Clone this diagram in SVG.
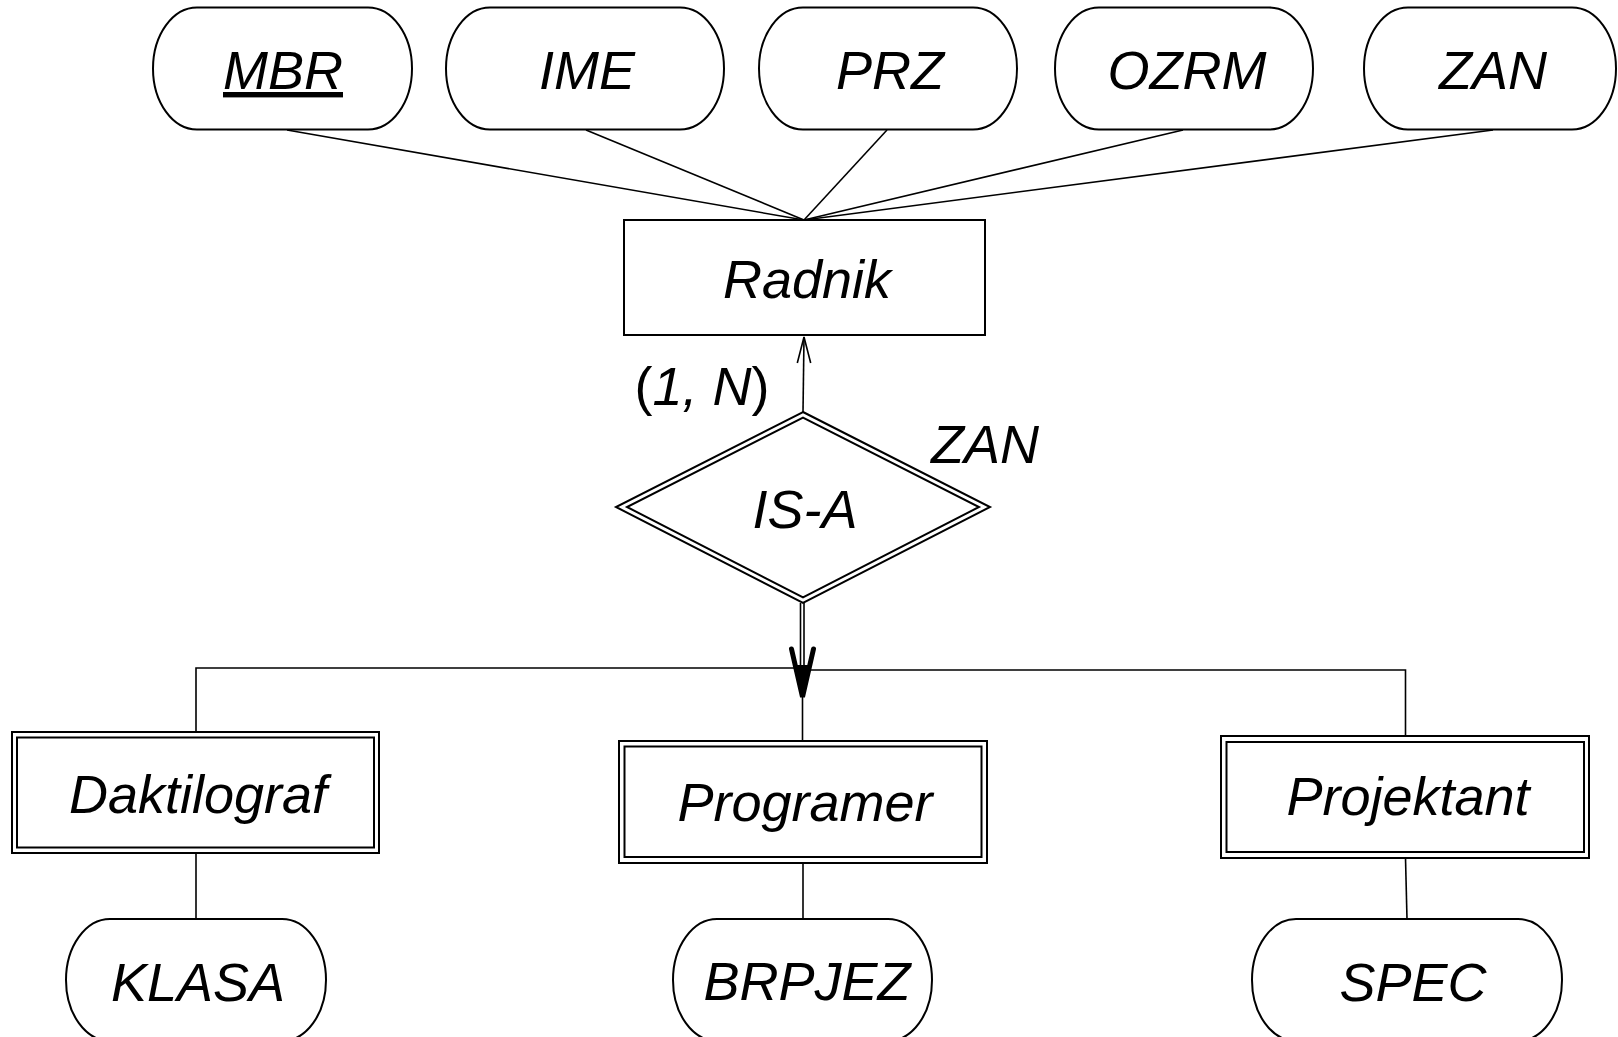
<svg xmlns="http://www.w3.org/2000/svg" width="1618" height="1037" viewBox="0 0 1618 1037">
<style>
  .shape { fill: #fff; stroke: #000; stroke-width: 2; }
  .conn { fill: none; stroke: #000; stroke-width: 1.6; }
  .lbl { font-family: "Liberation Sans", Arial, sans-serif; font-style: italic; font-size: 54px; fill: #000; text-anchor: middle; }
  .up { font-style: normal; }
</style>
<rect x="0" y="0" width="1618" height="1037" fill="#fff"/>
<g id="connectors">
  <line class="conn" x1="287" y1="130" x2="804" y2="220"/>
  <line class="conn" x1="586" y1="130" x2="804" y2="220"/>
  <line class="conn" x1="887" y1="130" x2="804" y2="220"/>
  <line class="conn" x1="1183" y1="130" x2="804" y2="220"/>
  <line class="conn" x1="1493" y1="130" x2="804" y2="220"/>
  <line class="conn" x1="803" y1="412" x2="804" y2="337"/>
  <polyline class="conn" points="797.3,363 804,337 810.7,363"/>
  <line class="conn" x1="800.5" y1="603" x2="800.5" y2="680" stroke-width="2"/>
  <line class="conn" x1="804" y1="603" x2="804" y2="680" stroke-width="2"/>
  <path d="M791.5,649 L802.5,697 L813.5,649" fill="none" stroke="#000" stroke-width="5" stroke-linejoin="miter" stroke-linecap="round"/>
  <path d="M796,665 L802.5,697 L809,665 Z" fill="#000"/>
  <polyline class="conn" points="196,732 196,668 802,668"/>
  <polyline class="conn" points="803,670 1405.5,670 1405.5,736"/>
  <line class="conn" x1="802.5" y1="690" x2="802.5" y2="741"/>
  <line class="conn" x1="196" y1="853" x2="196" y2="919"/>
  <line class="conn" x1="803" y1="863" x2="803" y2="919"/>
  <line class="conn" x1="1405.5" y1="858" x2="1407" y2="919"/>
</g>
<g id="attr-MBR">
  <rect class="shape" x="153" y="7.5" width="259" height="122" rx="44" ry="61"/>
  <text class="lbl" x="283" y="89" text-decoration="underline">MBR</text>
</g>
<g id="attr-IME">
  <rect class="shape" x="446" y="7.5" width="278" height="122" rx="44" ry="61"/>
  <text class="lbl" x="587" y="89">IME</text>
</g>
<g id="attr-PRZ">
  <rect class="shape" x="759" y="7.5" width="258" height="122" rx="44" ry="61"/>
  <text class="lbl" x="890" y="89">PRZ</text>
</g>
<g id="attr-OZRM">
  <rect class="shape" x="1055" y="7.5" width="258" height="122" rx="44" ry="61"/>
  <text class="lbl" x="1187" y="89">OZRM</text>
</g>
<g id="attr-ZAN">
  <rect class="shape" x="1364" y="7.5" width="252" height="122" rx="44" ry="61"/>
  <text class="lbl" x="1493" y="89">ZAN</text>
</g>
<g id="entity-Radnik">
  <rect class="shape" x="624" y="220" width="361" height="115"/>
  <text class="lbl" x="807" y="298">Radnik</text>
</g>
<g id="card-label">
  <text class="lbl" x="702" y="405"><tspan class="up">(</tspan>1, N<tspan class="up">)</tspan></text>
</g>
<g id="rel-ISA">
  <polygon class="shape" points="803,412 990,507 803,603 616,507"/>
  <polygon class="shape" points="803,417.6 979,507 803,597.4 627,507"/>
  <text class="lbl" x="805" y="528">IS-A</text>
</g>
<g id="isa-label">
  <text class="lbl" x="985" y="463">ZAN</text>
</g>
<g id="entity-Daktilograf">
  <rect class="shape" x="12" y="732" width="367" height="121"/>
  <rect class="shape" x="17" y="737.5" width="357" height="110"/>
  <text class="lbl" x="198" y="813">Daktilograf</text>
</g>
<g id="entity-Programer">
  <rect class="shape" x="619" y="741" width="368" height="122"/>
  <rect class="shape" x="624.5" y="746.5" width="357" height="110.5"/>
  <text class="lbl" x="805" y="821">Programer</text>
</g>
<g id="entity-Projektant">
  <rect class="shape" x="1221" y="736" width="368" height="122"/>
  <rect class="shape" x="1226.5" y="742" width="357.5" height="110"/>
  <text class="lbl" x="1408" y="815">Projektant</text>
</g>
<g id="attr-KLASA">
  <rect class="shape" x="66" y="919" width="260" height="122" rx="44" ry="61"/>
  <text class="lbl" x="198" y="1001">KLASA</text>
</g>
<g id="attr-BRPJEZ">
  <rect class="shape" x="673" y="919" width="259" height="122" rx="44" ry="61"/>
  <text class="lbl" x="807" y="1000">BRPJEZ</text>
</g>
<g id="attr-SPEC">
  <rect class="shape" x="1252" y="919" width="310" height="122" rx="44" ry="61"/>
  <text class="lbl" x="1413" y="1001">SPEC</text>
</g>
</svg>
